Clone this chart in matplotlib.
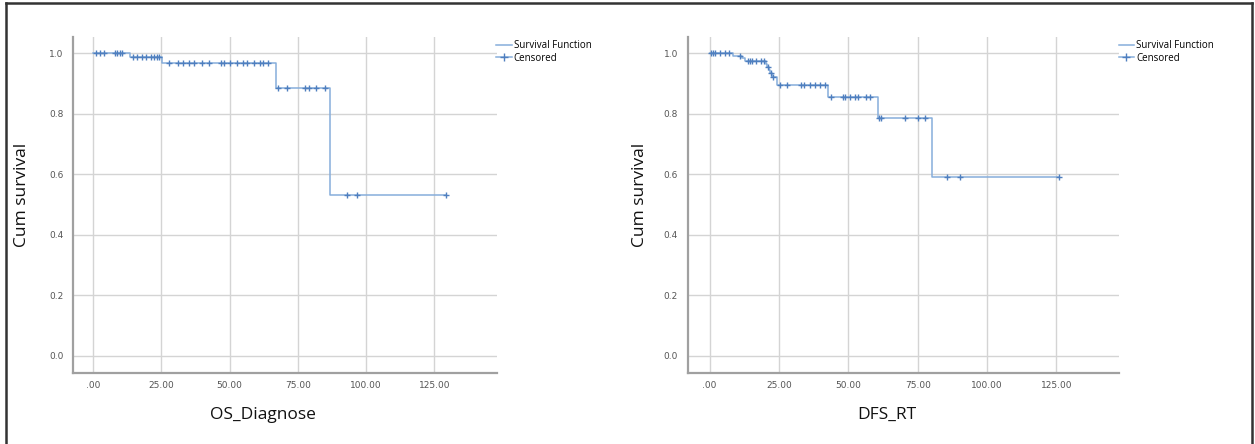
import numpy as np
import matplotlib
matplotlib.use("Agg")
import matplotlib.pyplot as plt
from matplotlib.lines import Line2D
from matplotlib.ticker import FuncFormatter

# Kaplan-Meier step points (time, cumulative survival) and censored times
os_times = [0, 13.6, 25.2, 66.9, 86.8, 129.4]
os_surv = [1.0, 0.988, 0.968, 0.885, 0.533, 0.533]
os_cens = [1.1, 2.3, 3.8, 7.8, 8.7, 9.7, 10.7, 14.6, 16.0, 17.9, 19.5, 21.0,
           22.4, 23.4, 24.0, 27.7, 31.0, 33.0, 35.1, 36.9, 40.0, 42.4, 46.7,
           47.9, 50.1, 52.8, 55.0, 56.5, 58.9, 61.1, 62.4, 63.9, 67.8, 71.2,
           77.6, 79.2, 81.6, 85.0, 92.9, 96.7, 129.4]

dfs_times = [0, 8.4, 11.8, 12.6, 20.2, 20.7, 21.4, 21.9, 22.6, 24.1, 42.7,
             60.7, 80.2, 126.0]
dfs_surv = [1.0, 0.99, 0.982, 0.975, 0.965, 0.955, 0.945, 0.935, 0.92, 0.894,
            0.856, 0.786, 0.591, 0.591]
dfs_cens = [0.6, 1.2, 1.8, 3.6, 5.4, 7.0, 10.8, 13.8, 14.4, 15.4, 16.8, 18.6,
            19.5, 21.0, 22.2, 23.0, 25.3, 27.9, 33.1, 33.9, 36.1, 37.9, 39.7,
            41.5, 43.9, 48.1, 48.7, 50.5, 52.3, 53.5, 56.5, 57.7, 61.1, 61.9,
            70.3, 75.1, 77.6, 85.4, 90.2, 126.0]

x_ticks = [0, 25, 50, 75, 100, 125]
y_ticks = [0.0, 0.2, 0.4, 0.6, 0.8, 1.0]

LINE_COL = "#86aedb"
MARK_COL = "#4f7fbf"
GRID_COL = "#d4d4d4"
SPINE_COL = "#a0a0a0"
LABEL_FONT = ["Open Sans", "DejaVu Sans"]


def surv_at(times, surv, t):
    idx = np.searchsorted(times, t, side="right") - 1
    return np.asarray(surv)[idx]


def km_panel(ax, times, surv, cens, xlabel, xlab_x, ylab_x, xlim):
    ax.step(times, surv, where="post", color=LINE_COL, lw=1.1, zorder=3)
    cy = surv_at(times, surv, cens)
    ax.plot(cens, cy, ls="none", marker="+", ms=5, mew=1.0,
            color=MARK_COL, zorder=4)

    ax.set_xlim(*xlim)
    ax.set_ylim(-0.056, 1.053)
    ax.set_xticks(x_ticks)
    ax.set_yticks(y_ticks)
    ax.xaxis.set_major_formatter(FuncFormatter(
        lambda v, p: ".00" if v == 0 else f"{v:.2f}"))
    ax.yaxis.set_major_formatter(FuncFormatter(lambda v, p: f"{v:.1f}"))
    ax.grid(True, color=GRID_COL, lw=1.0)
    ax.set_axisbelow(True)
    for s in ("top", "right"):
        ax.spines[s].set_visible(False)
    for s in ("left", "bottom"):
        ax.spines[s].set_color(SPINE_COL)
        ax.spines[s].set_linewidth(1.6)
    ax.tick_params(length=0, labelsize=6.5, labelcolor="#555555")
    ax.tick_params(axis="x", pad=6)
    ax.tick_params(axis="y", pad=7)

    ax.set_xlabel(xlabel, fontsize=12.5, family=LABEL_FONT, color="#111111")
    ax.set_ylabel("Cum survival", fontsize=12.5, family=LABEL_FONT,
                  color="#111111")
    ax.xaxis.set_label_coords(xlab_x, -0.101)
    ax.yaxis.set_label_coords(ylab_x, 0.53)

    handles = [Line2D([], [], color=LINE_COL, lw=1.1),
               Line2D([], [], color=LINE_COL, lw=1.1, marker="+", ms=6,
                      mec=MARK_COL)]
    ax.legend(handles, ["Survival Function", "Censored"], loc="upper left",
              bbox_to_anchor=(0.998, 0.99), frameon=False, fontsize=7,
              handlelength=1.6, handletextpad=0.2, labelspacing=0.15,
              borderpad=0, borderaxespad=0, prop={"family": LABEL_FONT,
                                                  "size": 7})


fig = plt.figure(figsize=(12.55, 4.44), dpi=100)
ax1 = fig.add_axes([0.0582, 0.16, 0.3378, 0.7567])
ax2 = fig.add_axes([0.548, 0.16, 0.344, 0.7567])

km_panel(ax1, os_times, os_surv, os_cens, "OS_Diagnose", 0.448, -0.101,
         (-7.4, 148))
km_panel(ax2, dfs_times, dfs_surv, dfs_cens, "DFS_RT", 0.46, -0.093,
         (-7.9, 147.7))

# outer frame
for xs, ys in [([0.005, 0.005], [0.0, 0.993]),
               ([0.005, 0.9975], [0.993, 0.993]),
               ([0.9975, 0.9975], [0.993, 0.0])]:
    fig.add_artist(Line2D(xs, ys, transform=fig.transFigure,
                          color="#333333", lw=1.8))

fig.savefig("out.png", dpi=100)
